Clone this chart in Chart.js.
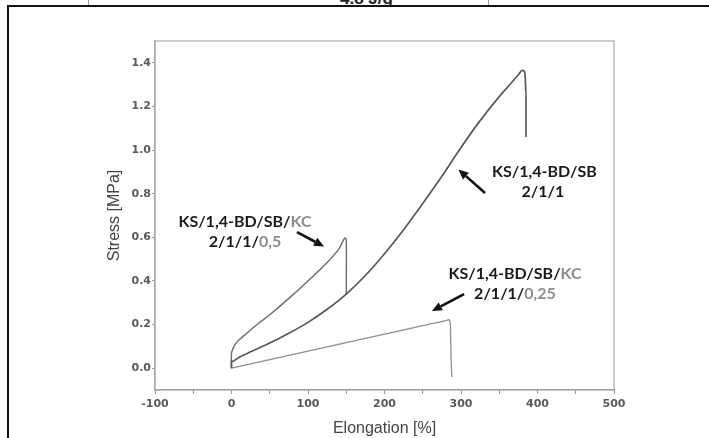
<!DOCTYPE html>
<html>
<head>
<meta charset="utf-8">
<script src="https://cdn.jsdelivr.net/npm/chart.js@4.4.1/dist/chart.umd.min.js"></script>
<style>
  html, body { margin: 0; padding: 0; background: #fff; overflow: hidden; }
  #page { position: relative; width: 709px; height: 438px; overflow: hidden; }
  #chart { position: absolute; left: 0; top: 0; }
  #frame { position: absolute; left: 7px; top: 5px; width: 760px; height: 500px;
           border: 2px solid #111; pointer-events: none; }
  #prev { position: absolute; left: 0; top: 0; width: 709px; height: 6px; overflow: hidden; }
  #prev .txt { position: absolute; left: 340px; top: -11px; font: bold 17px "Liberation Sans", Arial, sans-serif; color: #222; }
  #prev .rule { position: absolute; top: 0; width: 1px; height: 6px; background: #999; }
</style>
</head>
<body>
<div id="page">
  <div id="prev">
    <div class="rule" style="left:88px"></div>
    <div class="txt">4.8 J/g</div>
    <div class="rule" style="left:488px"></div>
  </div>
  <canvas id="chart" width="709" height="438"></canvas>
  <div id="frame"></div>
</div>
<script>
// KS/1,4-BD/SB 2/1/1
const elongBase = [0, 0, 10, 25, 50, 75, 100, 125, 150, 175, 200, 225, 250, 275, 300, 325, 350, 365, 375, 380, 383, 384, 385, 385];
const stressBase = [0, 0.03, 0.05, 0.075, 0.115, 0.16, 0.21, 0.27, 0.34, 0.425, 0.525, 0.635, 0.755, 0.88, 1.012, 1.135, 1.245, 1.305, 1.345, 1.365, 1.36, 1.33, 1.25, 1.06];

// KS/1,4-BD/SB/KC 2/1/1/0,5
const elongKC05 = [0, 0, 2, 5, 10, 20, 35, 50, 75, 100, 125, 140, 146, 148, 150, 150];
const stressKC05 = [0, 0.07, 0.09, 0.11, 0.13, 0.16, 0.205, 0.245, 0.32, 0.4, 0.485, 0.545, 0.585, 0.597, 0.59, 0.34];

// KS/1,4-BD/SB/KC 2/1/1/0,25
const elongKC025 = [0, 50, 100, 150, 200, 250, 280, 284, 286, 287, 288];
const stressKC025 = [0, 0.039, 0.078, 0.117, 0.156, 0.195, 0.218, 0.222, 0.21, 0.05, -0.04];

const xTicks = [-100, 0, 100, 200, 300, 400, 500];
const yTicks = [0.0, 0.2, 0.4, 0.6, 0.8, 1.0, 1.2, 1.4];

function pairs(xs, ys) {
    return xs.map((x, i) => ({ x: x, y: ys[i] }));
}

const DARK = '#1a1a1a';
const GREY = '#8c8c8c';

// labels and arrows, in data units
const notes = [
    { x: 17.6, y: 0.67, parts: [['KS/1,4-BD/SB/', DARK], ['KC', GREY]] },
    { x: 17.6, y: 0.579, parts: [['2/1/1/', DARK], ['0,5', GREY]] },
    { x: 409, y: 0.9, parts: [['KS/1,4-BD/SB', DARK]] },
    { x: 407, y: 0.808, parts: [['2/1/1', DARK]] },
    { x: 370.6, y: 0.432, parts: [['KS/1,4-BD/SB/', DARK], ['KC', GREY]] },
    { x: 370.6, y: 0.34, parts: [['2/1/1/', DARK], ['0,25', GREY]] }
];
const arrows = [
    { from: [85.6, 0.624], to: [120.9, 0.558] },
    { from: [331.4, 0.803], to: [296.7, 0.911] },
    { from: [304, 0.34], to: [262, 0.262] }
];

const extras = {
    id: 'extras',
    beforeDatasetsDraw(chart) {
        const a = chart.chartArea, c = chart.ctx;
        c.save();
        c.strokeStyle = '#a8a8a8';
        c.lineWidth = 1.2;
        c.strokeRect(a.left, a.top, a.right - a.left, a.bottom - a.top);
        c.restore();
    },
    afterDraw(chart) {
        const c = chart.ctx, xs = chart.scales.x, ys = chart.scales.y;
        c.save();
        c.font = 'bold 16px Lato, "Open Sans", sans-serif';
        c.textBaseline = 'middle';
        notes.forEach(n => {
            const total = n.parts.reduce((w, p) => w + c.measureText(p[0]).width, 0);
            let px = xs.getPixelForValue(n.x) - total / 2;
            const py = ys.getPixelForValue(n.y);
            n.parts.forEach(p => {
                c.fillStyle = p[1];
                c.fillText(p[0], px, py);
                px += c.measureText(p[0]).width;
            });
        });
        arrows.forEach(ar => {
            const x0 = xs.getPixelForValue(ar.from[0]), y0 = ys.getPixelForValue(ar.from[1]);
            const x1 = xs.getPixelForValue(ar.to[0]), y1 = ys.getPixelForValue(ar.to[1]);
            const ang = Math.atan2(y1 - y0, x1 - x0);
            const hl = 10, hw = 4.5;
            const bx = x1 - hl * Math.cos(ang), by = y1 - hl * Math.sin(ang);
            c.strokeStyle = '#111';
            c.lineWidth = 2.6;
            c.beginPath();
            c.moveTo(x0, y0);
            c.lineTo(bx, by);
            c.stroke();
            c.fillStyle = '#111';
            c.beginPath();
            c.moveTo(x1, y1);
            c.lineTo(bx + hw * Math.sin(ang), by - hw * Math.cos(ang));
            c.lineTo(bx - hw * Math.sin(ang), by + hw * Math.cos(ang));
            c.closePath();
            c.fill();
        });
        c.restore();
    }
};

const tickFont = { family: '"DejaVu Sans", Verdana, sans-serif', size: 11, weight: 'bold' };
const titleFont = { family: '"Liberation Sans", Arial, sans-serif', size: 16 };

new Chart(document.getElementById('chart').getContext('2d'), {
    type: 'line',
    data: {
        datasets: [
            {
                label: 'KS/1,4-BD/SB 2/1/1',
                data: pairs(elongBase, stressBase),
                borderColor: '#585858',
                borderWidth: 1.7,
                cubicInterpolationMode: 'monotone'
            },
            {
                label: 'KS/1,4-BD/SB/KC 2/1/1/0,5',
                data: pairs(elongKC05, stressKC05),
                borderColor: '#6c6c6c',
                borderWidth: 1.4,
                tension: 0.25
            },
            {
                label: 'KS/1,4-BD/SB/KC 2/1/1/0,25',
                data: pairs(elongKC025, stressKC025),
                borderColor: '#8e8e8e',
                borderWidth: 1.3,
                cubicInterpolationMode: 'monotone'
            }
        ]
    },
    options: {
        responsive: false,
        animation: false,
        events: [],
        elements: { point: { radius: 0 }, line: { fill: false } },
        layout: { padding: { left: 100, top: 41, right: 95, bottom: 0 } },
        plugins: {
            legend: { display: false },
            title: { display: false },
            tooltip: { enabled: false }
        },
        scales: {
            x: {
                type: 'linear',
                min: -100,
                max: 500,
                afterFit: s => { s.height = 48; },
                afterBuildTicks: s => {
                    const out = [];
                    for (let i = 0; i < xTicks.length; i++) {
                        out.push({ value: xTicks[i] });
                        if (i < xTicks.length - 1) out.push({ value: (xTicks[i] + xTicks[i + 1]) / 2, minor: true });
                    }
                    s.ticks = out;
                },
                ticks: {
                    autoSkip: false,
                    maxRotation: 0,
                    padding: 4,
                    color: '#5a5a5a',
                    font: tickFont,
                    callback: v => (xTicks.indexOf(v) >= 0 ? String(v) : '')
                },
                grid: { drawOnChartArea: false, tickLength: 4, color: '#999', lineWidth: 1 },
                border: { color: '#a0a0a0', width: 1.2 },
                title: { display: true, text: 'Elongation [%]', color: '#444', font: titleFont, padding: { top: 0, bottom: 0 } }
            },
            y: {
                min: -0.1,
                max: 1.5,
                afterFit: s => { s.width = 55; },
                afterBuildTicks: s => { s.ticks = yTicks.map(v => ({ value: v })); },
                ticks: {
                    autoSkip: false,
                    padding: 1,
                    color: '#5a5a5a',
                    font: tickFont,
                    callback: v => Number(v).toFixed(1)
                },
                grid: { drawOnChartArea: false, tickLength: 3, color: '#999', lineWidth: 1 },
                border: { color: '#a0a0a0', width: 1.2 },
                title: { display: true, text: 'Stress [MPa]', color: '#444', font: titleFont, padding: { top: 5, bottom: 0 } }
            }
        }
    },
    plugins: [extras]
});
</script>
</body>
</html>
